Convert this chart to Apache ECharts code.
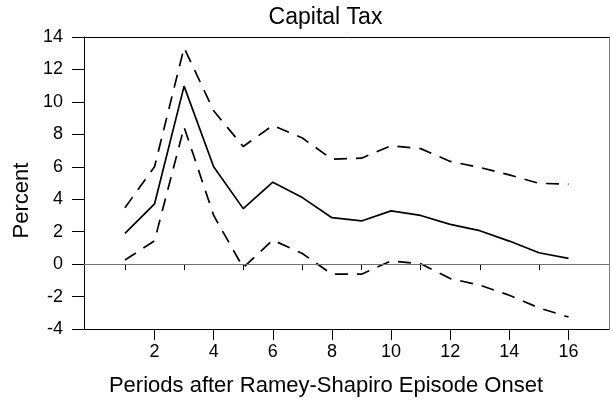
<!DOCTYPE html>
<html>
<head>
<meta charset="utf-8">
<script src="https://cdn.jsdelivr.net/npm/echarts@6/dist/echarts.min.js"></script>
<style>html,body{margin:0;padding:0;background:#fff}#c{width:612px;height:404px}</style>
</head>
<body>
<div id="c"></div>
<script>
var periods = [1,2,3,4,5,6,7,8,9,10,11,12,13,14,15,16];
var estimate = [1.9, 3.71, 10.97, 6.0, 3.42, 5.05, 4.1, 2.86, 2.66, 3.28, 3.0, 2.45, 2.06, 1.42, 0.7, 0.35];
var upperBand = [3.48, 6.0, 13.34, 9.45, 7.25, 8.55, 7.77, 6.47, 6.53, 7.3, 7.12, 6.33, 5.96, 5.5, 4.98, 4.93];
var lowerBand = [0.25, 1.44, 8.45, 3.0, -0.22, 1.48, 0.65, -0.62, -0.62, 0.2, 0.02, -0.89, -1.3, -1.92, -2.7, -3.26];
var xMajorTicks = [2,4,6,8,10,12,14,16];
var xMinorTicks = [1,3,5,7,9,11,13,15];

var FONT = 'Liberation Sans, Arial, sans-serif';
function pairs(vals){ return periods.map(function(p,i){ return [p, vals[i]]; }); }

var chart = echarts.init(document.getElementById('c'), null, {renderer:'canvas'});
var xMin = -0.385, xMax = 17.37;
chart.setOption({
  animation: false,
  backgroundColor: '#fff',
  grid: {left: 84, right: 3, top: 37, bottom: 75, containLabel: false},
  xAxis: [
    {type:'value', position:'bottom', min:xMin, max:xMax,
     axisLine:{show:true, onZero:false, lineStyle:{color:'#000', width:1}},
     axisTick:{show:true, customValues:xMajorTicks, length:11, lineStyle:{color:'#000'}},
     axisLabel:{show:true, customValues:xMajorTicks, margin:14, color:'#000', fontSize:18, fontFamily:FONT},
     splitLine:{show:false}},
    {type:'value', position:'bottom', min:xMin, max:xMax,
     axisLine:{show:false},
     axisTick:{show:true, customValues:xMinorTicks, length:6, lineStyle:{color:'#000'}},
     axisLabel:{show:false}, splitLine:{show:false}},
    {type:'value', position:'top', min:xMin, max:xMax,
     axisLine:{show:true, onZero:false, lineStyle:{color:'#000', width:1}},
     axisTick:{show:false}, axisLabel:{show:false}, splitLine:{show:false}}
  ],
  yAxis: [
    {type:'value', position:'left', min:-4, max:14, interval:2,
     axisLine:{show:true, onZero:false, lineStyle:{color:'#000', width:1}},
     axisTick:{show:true, length:12, lineStyle:{color:'#000'}},
     axisLabel:{margin:21, color:'#000', fontSize:18, fontFamily:FONT},
     splitLine:{show:false}},
    {type:'value', position:'right', min:-4, max:14, interval:2,
     axisLine:{show:true, onZero:false, lineStyle:{color:'#808080', width:1}},
     axisTick:{show:false}, axisLabel:{show:false}, splitLine:{show:false}}
  ],
  series: [
    {type:'line', data:pairs(estimate), xAxisIndex:0, yAxisIndex:0, symbol:'none',
     lineStyle:{color:'#000', width:1.7},
     markLine:{silent:true, symbol:'none', label:{show:false},
       lineStyle:{color:'#707070', width:1.2, type:'solid'},
       data:[{yAxis:0}]}},
    {type:'line', data:pairs(upperBand), xAxisIndex:0, yAxisIndex:0, symbol:'none',
     lineStyle:{color:'#000', width:1.7, type:[13,9]}},
    {type:'line', data:pairs(lowerBand), xAxisIndex:0, yAxisIndex:0, symbol:'none',
     lineStyle:{color:'#000', width:1.7, type:[13,9]}}
  ],
  graphic: [
    {type:'text', x:325.5, y:17.5, style:{text:'Capital Tax', fill:'#000', font:'23px ' + FONT, textAlign:'center', textVerticalAlign:'middle'}},
    {type:'text', x:326, y:385.5, style:{text:'Periods after Ramey-Shapiro Episode Onset', fill:'#000', font:'22px ' + FONT, textAlign:'center', textVerticalAlign:'middle'}},
    {type:'text', rotation:Math.PI/2, x:21.5, y:200.5, style:{text:'Percent', fill:'#000', font:'22px ' + FONT, textAlign:'center', textVerticalAlign:'middle'}}
  ]
});
</script>
</body>
</html>
